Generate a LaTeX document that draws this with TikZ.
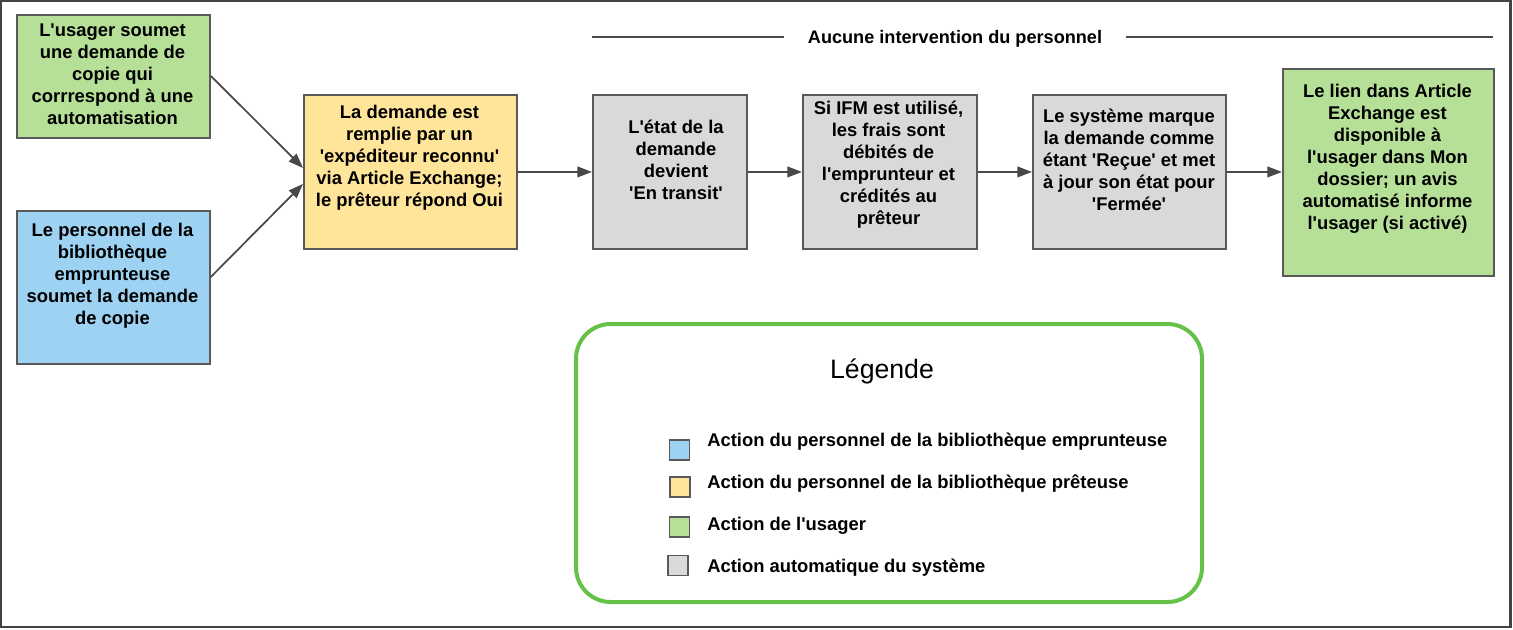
\documentclass[tikz,border=0pt]{standalone}
\usepackage{fontspec}
\setmainfont{Liberation Sans}
\usetikzlibrary{arrows.meta,calc}
\newcommand{\apos}{\textquotesingle}
\definecolor{cgreen}{RGB}{182,224,152}
\definecolor{cblue}{RGB}{157,210,242}
\definecolor{cyellow}{RGB}{255,229,153}
\definecolor{cgray}{RGB}{217,217,217}
\definecolor{cborder}{RGB}{89,89,89}
\definecolor{cline}{RGB}{72,72,72}
\definecolor{clegend}{RGB}{102,193,72}
\definecolor{cframe}{RGB}{68,68,68}
\begin{document}
\begin{tikzpicture}[x=0.75pt,y=-0.75pt,
  bx/.style 2 args={draw=cborder, line width=1.4pt, inner sep=0pt,
    minimum width=#1*0.75pt, minimum height=#2*0.75pt, anchor=north west},
  txt/.style={inner sep=0pt, align=center, anchor=north,
    font=\fontsize{13.8}{16.5}\selectfont\bfseries},
  arr/.style={draw=cline, line width=1.3pt, -{Triangle[length=11pt,width=8pt]}},
  sq/.style={draw=cborder, line width=1.4pt, minimum size=15pt, inner sep=0pt},
  legtxt/.style={inner sep=0pt, anchor=base west,
    font=\fontsize{13.8}{16.5}\selectfont\bfseries}]
\useasboundingbox (0,0) rectangle (1513,629);
\fill[white] (0,0) rectangle (1513,629);
\draw[cframe, line width=1.9pt] (1.2,1.2) rectangle (1510.3,627.2);

% boxes
\node[bx={193}{123}, fill=cgreen] (g1) at (16,14) {};
\node[bx={193}{153}, fill=cblue] (bl) at (16,210) {};
\node[bx={213}{154}, fill=cyellow] (ye) at (303,94) {};
\node[bx={154}{154}, fill=cgray] (s1) at (592,94) {};
\node[bx={174}{154}, fill=cgray] (s2) at (802,94) {};
\node[bx={193}{154}, fill=cgray] (s3) at (1032,94) {};
\node[bx={211}{207}, fill=cgreen] (g2) at (1282,68) {};

% texts
\node[txt] (g1t) at (112.5,24) {L\apos usager soumet\\une demande de\\copie qui\\corrrespond à une\\automatisation};
\node[txt] (blt) at (112.5,223) {Le personnel de la\\bibliothèque\\emprunteuse\\soumet la demande\\de copie};
\node[txt] (yet) at (409.5,105) {La demande est\\remplie par un\\\apos expéditeur reconnu\apos\\via Article Exchange;\\le prêteur répond Oui};
\node[txt] (s1t) at (676,119.5) {L\apos état de la\\demande\\devient\\\apos En transit\apos};
\node[txt] (s2t) at (888.5,100.5) {Si IFM est utilisé,\\les frais sont\\débités de\\l\apos emprunteur et\\crédités au\\prêteur};
\node[txt] (s3t) at (1129,108.5) {Le système marque\\la demande comme\\étant \apos Reçue\apos{} et met\\à jour son état pour\\\apos Fermée\apos};
\node[txt] (g2t) at (1387.5,84) {Le lien dans Article\\Exchange est\\disponible à\\l\apos usager dans Mon\\dossier; un avis\\automatisé informe\\l\apos usager (si activé)};

% connectors
\draw[arr] ($(g1.east)+(0,-0.5)$) -- ($(ye.west)+(0,-4)$);
\draw[arr] ($(bl.east)+(0,-10.5)$) -- ($(ye.west)+(0,12)$);
\draw[arr] (ye.east) -- (s1.west);
\draw[arr] (s1.east) -- (s2.west);
\draw[arr] (s2.east) -- (s3.west);
\draw[arr] (s3.east) -- (g2.west |- s3.east);

% top label
\node[inner xsep=18pt, inner ysep=0pt, anchor=base,
  font=\fontsize{13.6}{16}\selectfont\bfseries] (lbl) at (955,43) {Aucune intervention du personnel};
\coordinate (ll) at (592,37);
\coordinate (lr) at (1493,37);
\draw[cline, line width=1.4pt] (ll) -- (ll -| lbl.west);
\draw[cline, line width=1.4pt] (lr -| lbl.east) -- (lr);

% legend
\node[draw=clegend, line width=3pt, rounded corners=26pt, inner sep=0pt,
  minimum width=626*0.75pt, minimum height=278*0.75pt, anchor=north west] (leg) at (574,322) {};
\node[inner sep=0pt, anchor=base, font=\fontsize{20}{24}\selectfont] (legt) at (882,378) {Légende};
\node[sq, fill=cblue] (q1) at (679.5,450) {};
\node[sq, fill=cyellow] (q2) at (680,487) {};
\node[sq, fill=cgreen] (q3) at (679.5,527) {};
\node[sq, fill=cgray] (q4) at (678,565.5) {};
\node[legtxt] (l1) at (707,446) {Action du personnel de la bibliothèque emprunteuse};
\node[legtxt] (l2) at (707,488) {Action du personnel de la bibliothèque prêteuse};
\node[legtxt] (l3) at (707,530) {Action de l\apos usager};
\node[legtxt] (l4) at (707,572) {Action automatique du système};
\end{tikzpicture}
\end{document}
